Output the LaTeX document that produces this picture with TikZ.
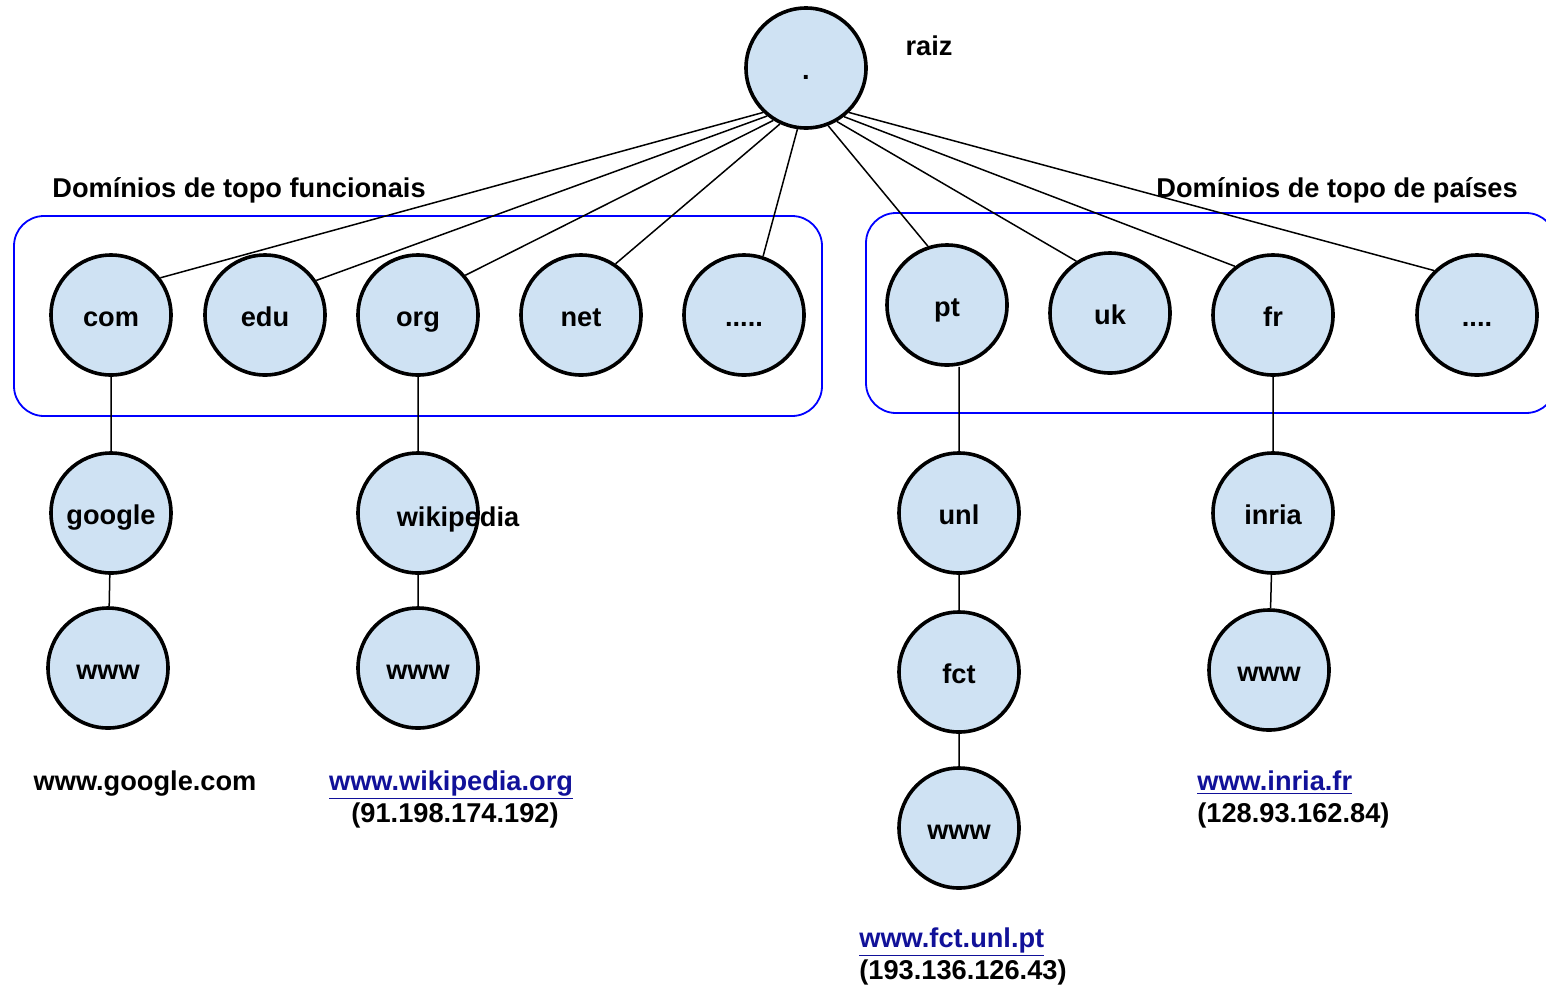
\documentclass[tikz,border=0pt]{standalone}
\usepackage{fontspec}
\setmainfont{Liberation Sans}
\definecolor{dnsfill}{HTML}{CFE2F3}
\definecolor{linkblue}{RGB}{17,17,153}
\begin{document}
\begin{tikzpicture}[x=0.5pt,y=-0.5pt,
  every node/.style={font=\bfseries\fontsize{13.6pt}{16pt}\selectfont,text height=11.5pt,text depth=0.4pt},
  dom/.style={circle,draw,line width=1.8pt,fill=dnsfill,minimum size=60pt,inner sep=0pt},
  txt/.style={inner sep=0pt},
  zone/.style={draw=blue,line width=0.9pt,rounded corners=15pt},
  link/.style={txt,text=linkblue}]
\useasboundingbox (0,0) rectangle (1546,986);
\draw[zone] (14,216) rectangle (822,416);
\draw[zone] (866,213) rectangle (1556,413);
\node[txt] (tfun) at (239,186) {Domínios de topo funcionais};
\node[txt] (tpais) at (1337,186) {Domínios de topo de países};
\node[dom] (root) at (806,68) {.};
\node[txt] (raiz) at (929,44) {raiz};
\node[dom] (com) at (111,315) {com};
\node[dom] (edu) at (265,315) {edu};
\node[dom] (org) at (418,315) {org};
\node[dom] (net) at (581,315) {net};
\node[dom] (gmore) at (744,315) {.....};
\node[dom] (pt) at (947,305) {pt};
\node[dom] (uk) at (1110,313) {uk};
\node[dom] (fr) at (1273,315) {fr};
\node[dom] (cmore) at (1477,315) {....};
\node[dom] (google) at (111,513) {google};
\node[dom] (wwwa) at (108,668) {www};
\node[dom] (wiki) at (418,513) {};
\node[dom] (wwwb) at (418,668) {www};
\node[dom] (unl) at (959,513) {unl};
\node[dom] (fct) at (959,672) {fct};
\node[dom] (wwwc) at (959,828) {www};
\node[dom] (inria) at (1273,513) {inria};
\node[dom] (wwwd) at (1269,670) {www};
\node[txt] (wikitxt) at (458,515) {wikipedia};
\draw[line width=0.75pt] (root.226)--(com.37) (root.231)--(edu.34) (root.238)--(org.40)
  (root.245)--(net.56) (root.262)--(gmore.72) (root.291)--(pt.108) (root.300)--(uk.123)
  (root.308)--(fr.128) (root.314)--(cmore.134);
\draw[line width=0.75pt] (com)--(google)--(wwwa) (org)--(wiki)--(wwwb)
  (pt.south -| unl.north)--(unl)--(fct)--(wwwc) (fr)--(inria)--(wwwd);
\node[txt] (googleurl) at (145,779) {www.google.com};
\node[link] (wikiurl) at (451,779) {\underline{www.wikipedia.org}};
\node[txt] (wikiip) at (455,811) {(91.198.174.192)};
\node[link,anchor=west] (fcturl) at (859,936) {\underline{www.fct.unl.pt}};
\node[txt,anchor=west] (fctip) at (859,968) {(193.136.126.43)};
\node[link,anchor=west] (inriaurl) at (1197,779) {\underline{www.inria.fr}};
\node[txt,anchor=west] (inriaip) at (1197,811) {(128.93.162.84)};
\end{tikzpicture}
\end{document}
